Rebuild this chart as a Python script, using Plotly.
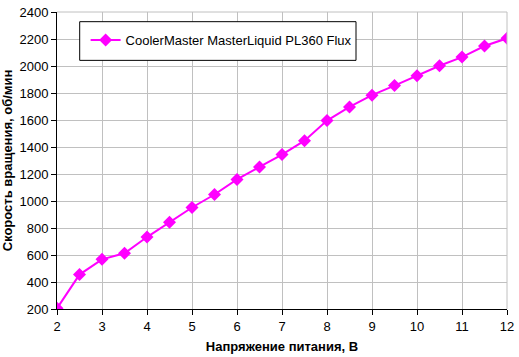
import plotly.graph_objects as go

voltage = [2, 2.5, 3, 3.5, 4, 4.5, 5, 5.5, 6, 6.5, 7, 7.5, 8, 8.5, 9, 9.5, 10, 10.5, 11, 11.5, 12]
rpm = [205, 455, 568, 613, 733, 843, 952, 1048, 1160, 1252, 1344, 1447, 1596, 1697, 1784, 1855, 1927, 2002, 2066, 2148, 2205]
series_name = "CoolerMaster MasterLiquid PL360 Flux"
x_title = "Напряжение питания, В"
y_title = "Скорость вращения, об/мин"

fig = go.Figure()
fig.add_trace(go.Scatter(
    x=voltage, y=rpm, mode="lines+markers", name=series_name,
    line=dict(color="#ff00ff", width=2),
    marker=dict(symbol="diamond", size=10, color="#ff00ff"),
))

font = "Liberation Sans, Arial, sans-serif"
W, H = 519, 357
ml, mr, mt, mb = 57, 6, 5, 45
pw, ph = W - ml - mr, H - mt - mb

def px_x(p):
    return (p - ml) / pw

def px_y(p):
    return 1 - (p - mt) / ph

fig.update_layout(
    width=W, height=H,
    margin=dict(l=ml, r=mr, t=mt, b=mb),
    paper_bgcolor="white", plot_bgcolor="white",
    font=dict(family=font, size=13, color="black"),
    showlegend=True,
    legend=dict(
        x=px_x(86), y=px_y(34), xanchor="left", yanchor="middle",
        bgcolor="rgba(0,0,0,0)", borderwidth=0,
        font=dict(family=font, size=13),
        itemwidth=30,
    ),
    xaxis=dict(
        range=[2, 12], dtick=1, tick0=2,
        showgrid=True, gridcolor="#c0c0c0", gridwidth=1,
        showline=True, linecolor="black", linewidth=1,
        ticks="outside", ticklen=5, tickcolor="black",
        ticklabeloverflow="allow",
        mirror=False, zeroline=False,
        tickfont=dict(size=13),
        title=dict(text="<b>" + x_title + "</b>", font=dict(size=13), standoff=9),
    ),
    yaxis=dict(
        range=[200, 2400], dtick=200, tick0=200,
        showgrid=True, gridcolor="#c0c0c0", gridwidth=1,
        showline=True, linecolor="black", linewidth=1,
        ticks="outside", ticklen=5, tickcolor="black",
        ticklabeloverflow="allow",
        zeroline=False,
        tickfont=dict(size=13),
        title=dict(text="<b>" + y_title + "</b>", font=dict(size=13), standoff=5),
    ),
    shapes=[
        dict(type="line", xref="paper", yref="paper", x0=0, x1=1, y0=1, y1=1,
             line=dict(color="#c0c0c0", width=1)),
        dict(type="line", xref="paper", yref="paper", x0=1, x1=1, y0=0, y1=1,
             line=dict(color="#c0c0c0", width=1)),
        dict(type="rect", xref="paper", yref="paper",
             x0=px_x(80), x1=px_x(360), y0=px_y(55), y1=px_y(15),
             line=dict(color="black", width=1), fillcolor="white", layer="above"),
    ],
)

fig.write_html("out.html", config={"displayModeBar": False},
               post_script="document.body.style.margin='0';")
